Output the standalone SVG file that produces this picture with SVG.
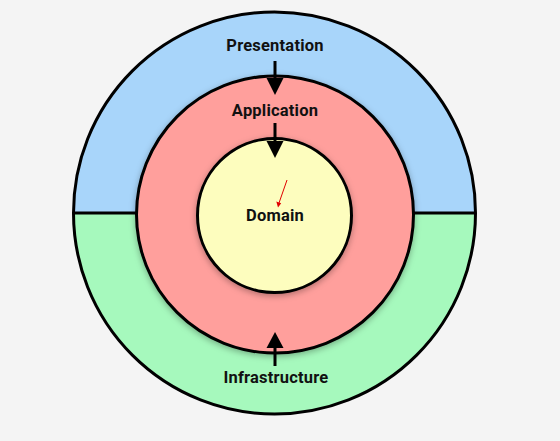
<svg xmlns="http://www.w3.org/2000/svg" width="560" height="441" viewBox="0 0 560 441">
<defs>
<style>
.ring{stroke:#000;stroke-width:3}
.lbl{font-family:Roboto,"Liberation Sans",sans-serif;font-weight:bold;font-size:16.5px;letter-spacing:0.2px;fill:#111;text-anchor:middle}
.arr{stroke:#000;stroke-width:3;fill:none}
</style>
<filter id="sh" x="-20%" y="-20%" width="140%" height="140%">
<feDropShadow dx="0" dy="2" stdDeviation="3" flood-color="#000" flood-opacity="0.3"/>
</filter>
<clipPath id="outerClip"><circle cx="274.5" cy="213" r="201"/></clipPath>
</defs>
<rect width="560" height="441" fill="#f4f4f4"/>
<g id="outer-ring">
<g clip-path="url(#outerClip)">
<rect x="60" y="0" width="440" height="213" fill="#a8d5fa"/>
<rect x="60" y="213" width="440" height="220" fill="#a6f9bd"/>
</g>
<circle cx="274.5" cy="213" r="201" fill="none" class="ring"/>
<line x1="73" y1="213" x2="476" y2="213" stroke="#000" stroke-width="3"/>
</g>
<g id="presentation"><text class="lbl" x="275" y="51">Presentation</text></g>
<g id="infrastructure"><text class="lbl" x="276" y="383">Infrastructure</text></g>
<g id="application">
<circle cx="275" cy="214.5" r="138.5" fill="#ff9f9c" class="ring" filter="url(#sh)"/>
<text class="lbl" x="275" y="116">Application</text>
</g>
<g id="domain">
<circle cx="274.5" cy="215.5" r="77" fill="#fdfdbe" class="ring" filter="url(#sh)"/>
<text class="lbl" x="275" y="221">Domain</text>
</g>
<g id="connectors">
<line class="arr" x1="275" y1="61" x2="275" y2="80"/>
<polygon points="266.5,78 283.5,78 275,95" fill="#000"/>
<line class="arr" x1="275" y1="123" x2="275" y2="143"/>
<polygon points="266.5,141 283.5,141 275,158" fill="#000"/>
<line class="arr" x1="275" y1="366" x2="275" y2="345"/>
<polygon points="266.5,348 283.5,348 275,332" fill="#000"/>
<line x1="287" y1="180" x2="279" y2="203" stroke="#e00000" stroke-width="1"/>
<polygon points="276.3,201.5 281.2,203.2 278,207.5" fill="#e00000"/>
</g>
</svg>
